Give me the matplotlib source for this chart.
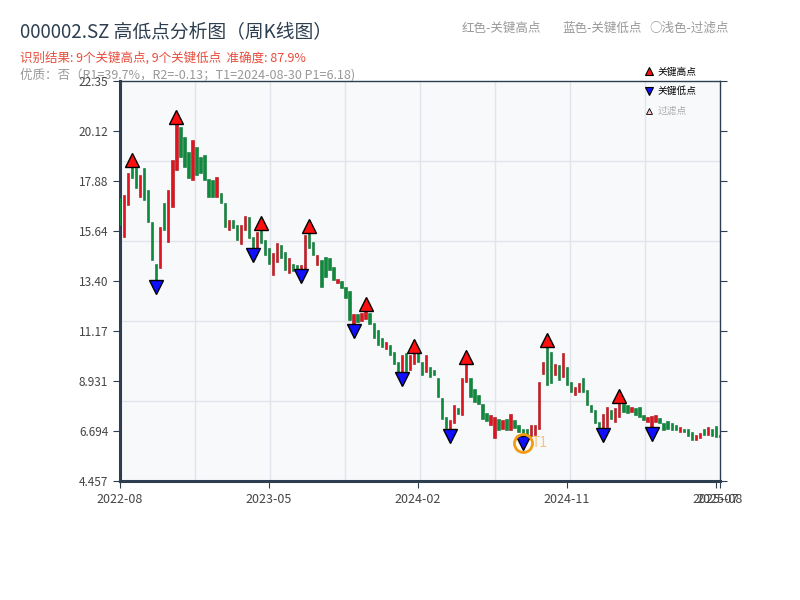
import numpy as np
import matplotlib
matplotlib.use("Agg")
import matplotlib.pyplot as plt
from matplotlib.ticker import LinearLocator, FormatStrFormatter
from matplotlib.lines import Line2D

plt.rcParams['font.family'] = ['Noto Sans CJK SC', 'DejaVu Sans']
plt.rcParams['axes.unicode_minus'] = False

# weekly candles (open / close), index 0 .. 149
opens = [17.10, 15.39, 16.80, 18.52, 18.44, 17.18, 18.45, 17.47, 16.06, 14.16,
         13.97, 16.88, 15.16, 16.73, 18.37, 20.31, 19.86, 19.19, 17.92, 19.41,
         18.97, 19.04, 17.99, 17.92, 17.18, 17.33, 16.88, 15.69, 16.13, 15.91,
         15.05, 15.69, 16.28, 15.39, 14.90, 15.69, 15.24, 14.87, 13.67, 14.27,
         15.01, 14.72, 13.75, 14.19, 14.12, 13.92, 13.95, 15.58, 15.16, 14.12,
         14.34, 14.49, 14.42, 14.04, 13.30, 13.40, 13.15, 12.95, 11.50, 11.92,
         11.60, 11.72, 12.00, 11.51, 11.20, 10.84, 10.39, 10.54, 10.24, 9.80,
         9.33, 10.20, 9.45, 9.72, 10.20, 9.80, 9.35, 9.57, 9.42, 9.05,
         8.16, 7.33, 6.80, 7.05, 7.75, 7.41, 8.90, 9.05, 8.60, 8.30,
         7.93, 7.50, 6.96, 6.40, 7.26, 6.81, 7.26, 6.74, 7.20, 6.96,
         6.81, 6.81, 6.50, 6.51, 6.81, 9.27, 10.45, 10.24, 9.20, 9.65,
         9.12, 9.57, 8.90, 8.30, 8.45, 9.05, 8.53, 7.86, 7.63, 7.11,
         6.82, 6.89, 7.63, 7.11, 7.34, 7.90, 7.85, 7.56, 7.71, 7.78,
         7.41, 7.11, 6.88, 7.11, 7.29, 7.04, 7.16, 7.04, 6.96, 6.66,
         6.81, 6.77, 6.66, 6.29, 6.37, 6.81, 6.52, 6.81, 6.92, 6.44]
closes = [15.91, 17.25, 18.22, 18.00, 17.55, 18.15, 17.03, 16.06, 14.34, 13.45,
          15.83, 15.69, 17.47, 18.82, 20.46, 18.97, 18.52, 18.00, 19.71, 18.15,
          18.22, 17.92, 17.18, 17.18, 18.07, 16.88, 15.83, 16.13, 15.76, 15.24,
          15.91, 16.30, 15.31, 14.87, 15.61, 15.09, 14.57, 14.19, 14.64, 15.09,
          14.42, 13.90, 14.42, 13.85, 13.88, 14.12, 15.45, 14.87, 14.57, 14.57,
          13.15, 13.60, 13.90, 13.45, 13.49, 13.08, 12.63, 11.66, 11.95, 11.58,
          11.98, 12.06, 11.50, 10.84, 10.55, 10.47, 10.69, 10.09, 9.72, 9.30,
          10.10, 9.40, 10.10, 10.22, 9.80, 9.20, 10.10, 9.12, 9.20, 8.23,
          7.26, 6.85, 7.20, 7.86, 7.45, 9.05, 9.70, 8.23, 8.01, 7.93,
          7.26, 7.15, 7.41, 7.35, 6.74, 7.19, 6.74, 7.45, 6.85, 6.66,
          6.47, 6.52, 6.96, 6.96, 8.90, 9.79, 8.75, 8.83, 9.72, 8.97,
          10.17, 8.75, 8.45, 8.68, 8.83, 8.45, 7.86, 7.56, 7.04, 6.85,
          7.48, 7.78, 7.26, 7.71, 7.98, 7.56, 7.50, 7.78, 7.41, 7.34,
          7.19, 7.34, 7.37, 7.41, 7.07, 6.74, 6.77, 6.74, 6.74, 6.86,
          6.66, 6.47, 6.29, 6.52, 6.62, 6.52, 6.89, 6.47, 6.44, 6.52]

# key points
high_idx = [3, 14, 35, 47, 61, 73, 86, 106, 124]
high_px = [18.52, 20.46, 15.69, 15.58, 12.06, 10.22, 9.70, 10.45, 7.98]
low_idx = [9, 33, 45, 58, 70, 82, 100, 120, 132]
low_px = [13.45, 14.87, 13.92, 11.48, 9.33, 6.80, 6.47, 6.82, 6.88]
t1_idx, t1_price = 100, 6.18

tick_pos = [0, 37, 74, 111, 148, 149]
tick_labels = ['2022-08', '2023-05', '2024-02', '2024-11', '2025-07', '2025-08']
y_lo, y_hi = 4.457, 22.3525

o = np.array(opens)
c = np.array(closes)
x = np.arange(len(o))
up = c >= o
body_col = np.where(up, '#e0141e', '#0d8a3c')
edge_col = np.where(up, '#a50d14', '#0a7030')

fig = plt.figure(figsize=(8, 6), dpi=100)
ax = fig.add_axes([0.15, 0.198, 0.75, 0.667])
ax.set_facecolor('#f7f9fb')

ax.bar(x, c - o, bottom=o, width=0.58, color=body_col, edgecolor=edge_col,
       linewidth=0.4, zorder=3)

off = 0.3
ax.plot(high_idx, np.array(high_px) + off, '^', ms=10, mfc='#ff1010', mec='black',
        mew=1, ls='none', zorder=5)
ax.plot(low_idx, np.array(low_px) - off, 'v', ms=10, mfc='#1010ff', mec='black',
        mew=1, ls='none', zorder=5)
ax.plot([t1_idx], [t1_price], 'o', ms=13, mfc='none', mec='#f39c12', mew=2, zorder=6)
ax.text(t1_idx + 2.2, t1_price, 'T1', color='#f5b041', alpha=0.7, fontsize=10,
        va='center', ha='left', zorder=6)

ax.set_xlim(0, len(o) - 1)
ax.set_ylim(y_lo, y_hi)
ax.set_xticks(tick_pos)
ax.set_xticklabels(tick_labels)
ax.yaxis.set_major_locator(LinearLocator(9))
ax.yaxis.set_major_formatter(FormatStrFormatter('%#.4g'))
ax.xaxis.set_minor_locator(LinearLocator(9))
ax.yaxis.set_minor_locator(LinearLocator(6))
ax.grid(False, which='major')
ax.grid(True, which='minor', color='#e1e4ea', lw=1, zorder=0)
ax.set_axisbelow(True)
ax.tick_params(which='minor', length=0)
ax.tick_params(which='major', direction='out', length=5, color='#2c3e50',
               labelcolor='#444444', labelsize=8.5)
ax.tick_params(axis='y', right=True)
ax.tick_params(axis='x', labelsize=9)

dark = '#2c3e50'
for side, lw in [('left', 2.2), ('bottom', 2.2), ('top', 1), ('right', 1)]:
    ax.spines[side].set_color(dark)
    ax.spines[side].set_linewidth(lw)

handles = [
    Line2D([], [], marker='^', ls='none', ms=6, mfc='#ff1010', mec='black', mew=0.8),
    Line2D([], [], marker='v', ls='none', ms=6, mfc='#1010ff', mec='black', mew=0.8),
    Line2D([], [], marker='^', ls='none', ms=5, mfc='#ffc8c8', mec='black', mew=0.6),
]
leg = ax.legend(handles, ['关键高点', '关键低点', '过滤点'], loc='upper right',
                bbox_to_anchor=(0.975, 1.058), frameon=False, fontsize=7,
                labelspacing=1.0, handletextpad=0.4, handlelength=1.0)
leg.get_texts()[2].set_color('#aaaaaa')

fig.text(20 / 800, 1 - 33 / 600, '000002.SZ 高低点分析图（周K线图）', fontsize=13.5,
         color='#2c3e50', va='center', ha='left')
fig.text(20 / 800, 1 - 58 / 600, '识别结果: 9个关键高点, 9个关键低点  准确度: 87.9%',
         fontsize=9, color='#e74c3c', va='center', ha='left')
fig.text(20 / 800, 1 - 75 / 600, '优质：否（R1=39.7%，R2=-0.13；T1=2024-08-30 P1=6.18)',
         fontsize=9, color='#999999', va='center', ha='left', zorder=-1)
fig.text(462 / 800, 1 - 28 / 600, '红色-关键高点', fontsize=9, color='#999999', va='center')
fig.text(562 / 800, 1 - 28 / 600, '蓝色-关键低点', fontsize=9, color='#999999', va='center')
fig.text(649 / 800, 1 - 28 / 600, '○浅色-过滤点', fontsize=9, color='#999999', va='center')

fig.savefig('out.png', dpi=100)
